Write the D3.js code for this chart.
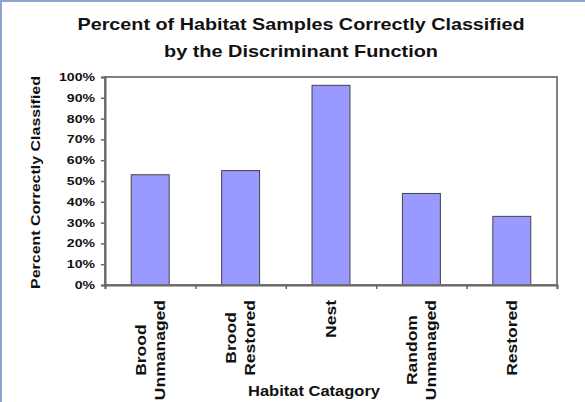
<!DOCTYPE html>
<html>
<head>
<meta charset="utf-8">
<script src="https://cdn.jsdelivr.net/npm/d3@7"></script>
<style>
  html, body { margin: 0; padding: 0; background: #fff; }
  svg { display: block; }
  text { font-family: "Liberation Sans", Arial, sans-serif; font-weight: bold; fill: #111; }
</style>
</head>
<body>
<svg id="chart" width="585" height="402"></svg>
<script>
// Habitat categories (each label split into its display lines)
const categories = ["Brood Unmanaged", "Brood Restored", "Nest", "Random Unmanaged", "Restored"];
const categoryLines = [["Brood", "Unmanaged"], ["Brood", "Restored"], ["Nest"], ["Random", "Unmanaged"], ["Restored"]];
// Share of samples correctly classified
const percentCorrect = [0.53, 0.55, 0.96, 0.44, 0.33];
// Y axis tick values
const yTicks = [0, 0.1, 0.2, 0.3, 0.4, 0.5, 0.6, 0.7, 0.8, 0.9, 1.0];

const titleLines = ["Percent of Habitat Samples Correctly Classified", "by the Discriminant Function"];
const yTitle = "Percent Correctly Classified";
const xTitle = "Habitat Catagory";

const svg = d3.select("#chart");
const plot = { left: 105, top: 77, right: 557, bottom: 285 };

// Widen text horizontally to the target length
function fitLength(sel, factor) {
  sel.each(function () {
    const w = this.getComputedTextLength();
    d3.select(this).attr("textLength", w * factor).attr("lengthAdjust", "spacingAndGlyphs");
  });
}

// Outer frame edges
svg.append("line").attr("x1", 1).attr("y1", 0).attr("x2", 1).attr("y2", 402)
  .attr("stroke", "#8ea4cc").attr("stroke-width", 2);
svg.append("line").attr("x1", 0).attr("y1", 1).attr("x2", 585).attr("y2", 1)
  .attr("stroke", "#8ea4cc").attr("stroke-width", 2);

const x = d3.scaleBand().domain(categories)
  .range([plot.left, plot.right]).paddingInner(0.58).paddingOuter(0.29);
const y = d3.scaleLinear().domain([0, 1]).range([plot.bottom, plot.top]);
const xEdges = d3.scaleLinear().domain([0, categories.length]).range([plot.left, plot.right]);

// Bars
svg.append("g").selectAll("rect").data(categories).join("rect")
  .attr("x", d => x(d))
  .attr("y", (d, i) => y(percentCorrect[i]))
  .attr("width", x.bandwidth())
  .attr("height", (d, i) => y(0) - y(percentCorrect[i]))
  .attr("fill", "#9999ff")
  .attr("stroke", "#444")
  .attr("stroke-width", 1);

// Plot area frame
svg.append("rect")
  .attr("x", plot.left).attr("y", plot.top)
  .attr("width", plot.right - plot.left).attr("height", plot.bottom - plot.top)
  .attr("fill", "none").attr("stroke", "#808080").attr("stroke-width", 2);

// Y axis
const yAxis = svg.append("g").attr("transform", `translate(${plot.left},0)`)
  .call(d3.axisLeft(y).tickValues(yTicks).tickFormat(d3.format(".0%")).tickSize(4).tickPadding(6));
yAxis.select(".domain").attr("stroke", "#666").attr("stroke-width", 2);
yAxis.selectAll(".tick line").attr("stroke", "#666").attr("stroke-width", 1.5);
yAxis.selectAll(".tick text").attr("font-size", 11).attr("fill", "#111")
  .attr("font-family", "Liberation Sans, Arial, sans-serif").attr("font-weight", "bold")
  .call(fitLength, 1.28);

// X axis: ticks at category boundaries
const xAxis = svg.append("g").attr("transform", `translate(0,${plot.bottom})`)
  .call(d3.axisBottom(xEdges).tickValues(d3.range(categories.length + 1)).tickFormat("").tickSize(4));
xAxis.select(".domain").attr("stroke", "#666").attr("stroke-width", 2);
xAxis.selectAll(".tick line").attr("stroke", "#666").attr("stroke-width", 1.5);

// Rotated category labels
const labelTop = 300;
const lineGap = 19;
categories.forEach((c, i) => {
  const cx = x(c) + x.bandwidth() / 2;
  const lines = categoryLines[i];
  const g = svg.append("g").attr("transform", `translate(${cx},${labelTop}) rotate(-90)`);
  const texts = g.selectAll("text").data(lines).join("text")
    .attr("font-size", 14)
    .attr("y", (d, j) => 5 + (j - (lines.length - 1) / 2) * lineGap)
    .attr("text-anchor", "middle")
    .text(d => d);
  texts.call(fitLength, 1.25);
  const maxLen = d3.max(texts.nodes(), n => +n.getAttribute("textLength"));
  texts.attr("x", -maxLen / 2);
});

// Titles
const title = svg.append("g");
title.selectAll("text").data(titleLines).join("text")
  .attr("x", 301).attr("y", (d, i) => 30 + i * 26.5)
  .attr("text-anchor", "middle").attr("font-size", 16.5)
  .text(d => d)
  .attr("textLength", (d, i) => [447, 274][i])
  .attr("lengthAdjust", "spacingAndGlyphs");

svg.append("text")
  .attr("transform", "translate(40,182.5) rotate(-90)")
  .attr("text-anchor", "middle").attr("font-size", 13)
  .attr("textLength", 213).attr("lengthAdjust", "spacingAndGlyphs")
  .text(yTitle);

svg.append("text")
  .attr("x", 314).attr("y", 396)
  .attr("text-anchor", "middle").attr("font-size", 14)
  .attr("textLength", 132).attr("lengthAdjust", "spacingAndGlyphs")
  .text(xTitle);
</script>
</body>
</html>
